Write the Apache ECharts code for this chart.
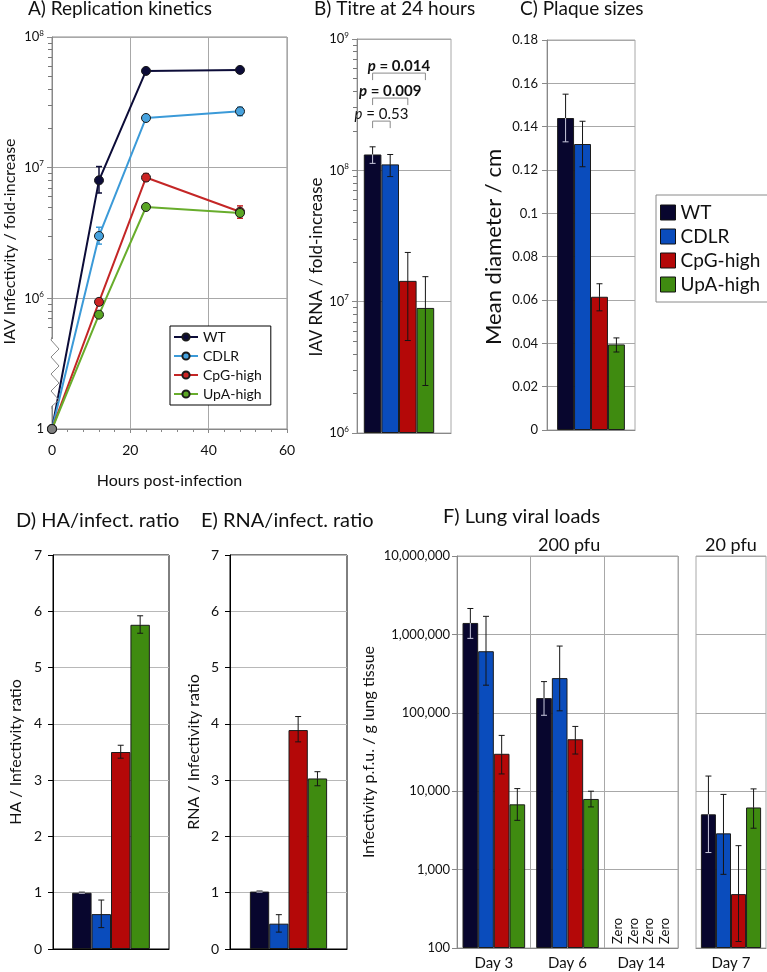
<!DOCTYPE html>
<html><head><meta charset="utf-8">
<script src="https://cdn.jsdelivr.net/npm/echarts@6/dist/echarts.min.js"></script>
<style>html,body{margin:0;padding:0;background:#fff}#c{width:767px;height:972px}</style>
</head><body><div id="c"></div>
<script>
// ---------------- DATA ----------------
const seriesNames = ['WT', 'CDLR', 'CpG-high', 'UpA-high'];

// A) Replication kinetics (fold-increase; value 1 sits below the axis break)
const hoursA = [0, 12, 24, 48];
const kinWT   = [1, 8.0e6, 5.5e7, 5.6e7];
const kinCDLR = [1, 3.0e6, 2.4e7, 2.7e7];
const kinCpG  = [1, 9.4e5, 8.4e6, 4.6e6];
const kinUpA  = [1, 7.5e5, 5.0e6, 4.5e6];
const kinLoWT   = [null, 6.4e6, 5.3e7, 5.4e7];
const kinHiWT   = [null, 1.02e7, 5.7e7, 5.8e7];
const kinLoCDLR = [null, 2.6e6, 2.3e7, 2.5e7];
const kinHiCDLR = [null, 3.5e6, 2.5e7, 2.9e7];
const kinLoCpG  = [null, 9.0e5, 7.9e6, 4.1e6];
const kinHiCpG  = [null, 9.8e5, 9.0e6, 5.1e6];
const kinLoUpA  = [null, 7.3e5, 4.9e6, 4.3e6];
const kinHiUpA  = [null, 7.7e5, 5.1e6, 4.7e6];
const hoursTicks = [0, 20, 40, 60];

// B) Titre at 24 hours
const titreVal = [1.32e8, 1.11e8, 1.44e7, 8.96e6];
const titreLo  = [1.13e8, 8.96e7, 5.06e6, 2.3e6];
const titreHi  = [1.51e8, 1.32e8, 2.37e7, 1.55e7];
const pFrom = [0, 0, 0];
const pTo   = [1, 2, 3];
const pAt   = [2.37e8, 3.55e8, 5.5e8];
const pText = ['0.53', '0.009', '0.014'];
const pBold = [false, true, true];

// C) Plaque sizes (cm)
const plaqueVal = [0.144, 0.132, 0.0615, 0.0395];
const plaqueLo  = [0.133, 0.1215, 0.055, 0.036];
const plaqueHi  = [0.155, 0.1425, 0.0675, 0.0425];

// D) HA / infectivity ratio
const haVal = [1.0, 0.62, 3.5, 5.76];
const haLo  = [0.99, 0.38, 3.39, 5.61];
const haHi  = [1.01, 0.87, 3.62, 5.92];

// E) RNA / infectivity ratio
const rnaVal = [1.02, 0.45, 3.89, 3.03];
const rnaLo  = [1.01, 0.30, 3.68, 2.90];
const rnaHi  = [1.03, 0.61, 4.13, 3.15];

// F) Lung viral loads (pfu / g lung tissue), 0 = none detected
const lungDays200 = ['Day 3', 'Day 6', 'Day 14'];
const lungWT   = [1.40e6, 1.54e5, 0];
const lungCDLR = [6.1e5, 2.77e5, 0];
const lungCpG  = [3.0e4, 4.6e4, 0];
const lungUpA  = [6.8e3, 7.96e3, 0];
const lungLoWT   = [8.9e5, 9.3e4, 0];
const lungHiWT   = [2.14e6, 2.5e5, 0];
const lungLoCDLR = [2.25e5, 1.06e5, 0];
const lungHiCDLR = [1.7e6, 7.1e5, 0];
const lungLoCpG  = [1.66e4, 2.98e4, 0];
const lungHiCpG  = [5.15e4, 6.7e4, 0];
const lungLoUpA  = [4.25e3, 6.3e3, 0];
const lungHiUpA  = [1.08e4, 1.0e4, 0];
const lungDays20 = ['Day 7'];
const lung20WT   = [5.07e3];
const lung20CDLR = [2.9e3];
const lung20CpG  = [487];
const lung20UpA  = [6.2e3];
const lung20LoWT   = [1.65e3];
const lung20HiWT   = [1.56e4];
const lung20LoCDLR = [870];
const lung20HiCDLR = [9.1e3];
const lung20LoCpG  = [121];
const lung20HiCpG  = [2.02e3];
const lung20LoUpA  = [3.37e3];
const lung20HiUpA  = [1.07e4];

// ---------------- STYLE ----------------
const FONT = 'Lato';
const BAR_COLORS = ['#08062e', '#0a4cbc', '#b40808', '#3f8b10'];
const LINE_COLORS = ['#0c0c38', '#3b9ad8', '#c42626', '#68ad2c'];
const MARK_COLORS = ['#0c0c38', '#46a2de', '#cc2424', '#5aa624'];
const GRID_GREY = '#a8a8a8';
const AXIS_GREY = '#888888';
const BREAK = 1e5;
// panel B bar layout: fixed bar width plus an empty trailing slot (bars sit left of centre)
const B_BAR_W = 17.6, B_TAIL = 10;

function minorLogTicks(fromExp, toExp) {
  const out = [];
  for (let e = fromExp; e < toExp; e++) for (let m = 2; m <= 9; m++) out.push(Math.log10(m * Math.pow(10, e)));
  return out;
}
const supRich = {
  b: { fontSize: 13, lineHeight: 16, fontFamily: FONT, color: '#111' },
  s: { fontSize: 8, lineHeight: 8, verticalAlign: 'top', fontFamily: FONT, color: '#111' }
};
function supLabel(v) {
  if (v <= BREAK * 1.01) return '{b|1}';
  return '{b|10}{s|' + Math.round(Math.log10(v)) + '}';
}
// rotated axis name shifted along the axis by a trailing blank token
function shiftedName(text, fontSize, shift) {
  return {
    name: '{t|' + text + '}{sp|\u00a0}',
    nameTextStyle: { rich: {
      t: { fontSize: fontSize, fontFamily: FONT, color: '#111' },
      sp: { fontSize: fontSize, width: shift, fontFamily: FONT }
    } }
  };
}

function kinSeries(i, vals) {
  return {
    name: seriesNames[i], type: 'line', xAxisIndex: 0, yAxisIndex: 0, z: 4,
    data: hoursA.map((h, k) => {
      const v = vals[k] < BREAK ? BREAK : vals[k];
      return k === 0 ? { value: [h, v], itemStyle: { color: '#808080' } } : [h, v];
    }),
    symbol: 'circle', symbolSize: 9,
    lineStyle: { color: LINE_COLORS[i], width: 2 },
    itemStyle: { color: MARK_COLORS[i], borderColor: '#1a1a1a', borderWidth: 1 }
  };
}
function kinErr(i, lo, hi) {
  const data = [];
  hoursA.forEach((h, k) => { if (lo[k] != null) data.push([h, lo[k], hi[k]]); });
  const col = LINE_COLORS[i];
  return {
    type: 'custom', xAxisIndex: 0, yAxisIndex: 0, z: 3, silent: true, data,
    renderItem(params, api) {
      const p1 = api.coord([api.value(0), api.value(1)]);
      const p2 = api.coord([api.value(0), api.value(2)]);
      const w = 3, st = { stroke: col, lineWidth: 1.5 };
      return { type: 'group', children: [
        { type: 'line', shape: { x1: p1[0], y1: p1[1], x2: p2[0], y2: p2[1] }, style: st },
        { type: 'line', shape: { x1: p1[0] - w, y1: p1[1], x2: p1[0] + w, y2: p1[1] }, style: st },
        { type: 'line', shape: { x1: p2[0] - w, y1: p2[1], x2: p2[0] + w, y2: p2[1] }, style: st }
      ] };
    }
  };
}

// centre x of bar s in category cat, matching ECharts' own bar layout
function barCenter(cs, nCats, cat, s, layout) {
  const band = cs.width / nCats;
  if (layout.barW) {
    const grp = 4 * layout.barW + layout.tail;
    return cs.x + band * (cat + 0.5) - grp / 2 + layout.barW * (s + 0.5);
  }
  const grp = band * (1 - layout.gap), bw = grp / 4;
  return cs.x + band * (cat + 0.5) - grp / 2 + bw * (s + 0.5);
}

function barSeries(axisIdx, valsList, layout) {
  const list = valsList.map((vals, i) => {
    const s = {
      name: seriesNames[i], type: 'bar', xAxisIndex: axisIdx, yAxisIndex: axisIdx,
      data: vals.map(v => v === 0 ? '-' : v),
      barGap: '0%', clip: true,
      itemStyle: { color: BAR_COLORS[i], borderColor: '#1c1c1c', borderWidth: 1 }
    };
    if (layout.barW) s.barWidth = layout.barW; else s.barCategoryGap = (layout.gap * 100) + '%';
    return s;
  });
  if (layout.barW) {
    list.push({ name: 'slot', type: 'bar', xAxisIndex: axisIdx, yAxisIndex: axisIdx, barGap: '0%',
      barWidth: layout.tail, data: valsList[0].map(() => '-'), silent: true });
  }
  return list;
}
function barErr(axisIdx, nCats, layout, valsList, loList, hiList) {
  const data = [];
  valsList.forEach((vals, s) => vals.forEach((v, c) => data.push([c, loList[s][c], hiList[s][c], v, s])));
  return {
    type: 'custom', xAxisIndex: axisIdx, yAxisIndex: axisIdx, z: 5, silent: true, data,
    renderItem(params, api) {
      const cs = params.coordSys;
      const cat = api.value(0), lo = api.value(1), hi = api.value(2), v = api.value(3), s = api.value(4);
      const cx = barCenter(cs, nCats, cat, s, layout);
      if (v === 0) {
        return { type: 'text', x: cx, y: cs.y + cs.height - 4, rotation: Math.PI / 2,
          style: { text: 'Zero', fill: '#111', font: '13px ' + FONT, align: 'left', verticalAlign: 'middle' } };
      }
      const yv = api.coord([cat, v])[1], yl = api.coord([cat, lo])[1], yh = api.coord([cat, hi])[1];
      const dark = '#151515', light = s === 0 ? '#c9c9de' : dark, w = 3;
      return { type: 'group', children: [
        { type: 'line', shape: { x1: cx, y1: yh, x2: cx, y2: yv }, style: { stroke: dark, lineWidth: 1 } },
        { type: 'line', shape: { x1: cx, y1: yv, x2: cx, y2: yl }, style: { stroke: light, lineWidth: 1 } },
        { type: 'line', shape: { x1: cx - w, y1: yh, x2: cx + w, y2: yh }, style: { stroke: dark, lineWidth: 1 } },
        { type: 'line', shape: { x1: cx - w, y1: yl, x2: cx + w, y2: yl }, style: { stroke: light, lineWidth: 1 } }
      ] };
    }
  };
}
function pBrackets(layout) {
  const data = pFrom.map((f, k) => [f, pTo[k], pAt[k], k]);
  return {
    type: 'custom', xAxisIndex: 1, yAxisIndex: 1, z: 6, silent: true, data,
    renderItem(params, api) {
      const cs = params.coordSys;
      const k = api.value(3);
      const x1 = barCenter(cs, 1, 0, api.value(0), layout);
      const x2 = barCenter(cs, 1, 0, api.value(1), layout);
      const y = api.coord([0, api.value(2)])[1];
      const fw = pBold[k] ? 'bold' : 'normal';
      return { type: 'group', children: [
        { type: 'polyline', shape: { points: [[x1, y + 7], [x1, y], [x2, y], [x2, y + 7]] }, style: { stroke: '#8a8a8a', lineWidth: 1, fill: null } },
        { type: 'text', x: (x1 + x2) / 2, y: y + 1, style: {
          text: '{i|p}{n| = ' + pText[k] + '}', align: 'center', verticalAlign: 'bottom',
          rich: { i: { fontStyle: 'italic', fontWeight: fw, fontSize: 15, fontFamily: FONT, fill: '#111' },
                  n: { fontWeight: fw, fontSize: 15, fontFamily: FONT, fill: '#111' } } } }
      ] };
    }
  };
}

const catAxis = (gi, data, lineColor) => ({
  type: 'category', gridIndex: gi, data: data,
  axisLine: { show: true, lineStyle: { color: lineColor } },
  axisTick: { show: false }, axisLabel: { show: false }, splitLine: { show: false }
});
const nameStyle = { fontSize: 16, fontFamily: FONT, color: '#111' };
const labStyle = { fontSize: 13, fontFamily: FONT, color: '#111' };
const titleStyle = (fs) => ({ fontSize: fs, fontWeight: 'normal', color: '#111', fontFamily: FONT });

const layoutB = { barW: B_BAR_W, tail: B_TAIL };
const layoutC = { gap: 0.23 }, layoutD = { gap: 0.33 }, layoutE = { gap: 0.34 };
const layoutF1 = { gap: 0.15 }, layoutF2 = { gap: 0.14 };

const option = {
  animation: false,
  backgroundColor: '#fff',
  textStyle: { fontFamily: FONT },
  title: [
    { text: 'A) Replication kinetics', left: 28, top: -1, textStyle: titleStyle(19) },
    { text: 'B) Titre at 24 hours', left: 314, top: -1, textStyle: titleStyle(19) },
    { text: 'C) Plaque sizes', left: 520, top: -1, textStyle: titleStyle(19) },
    { text: 'D) HA/infect. ratio', left: 16, top: 511, textStyle: titleStyle(20) },
    { text: 'E) RNA/infect. ratio', left: 201, top: 511, textStyle: titleStyle(20) },
    { text: 'F) Lung viral loads', left: 443, top: 507, textStyle: titleStyle(20) },
    { text: '200 pfu', left: 538, top: 536, textStyle: titleStyle(18) },
    { text: '20 pfu', left: 705, top: 536, textStyle: titleStyle(18) }
  ].map(t => Object.assign({ padding: 0 }, t)),
  legend: [
    { left: 170, top: 326, orient: 'vertical', itemWidth: 24, itemHeight: 9, itemGap: 5,
      padding: [4, 9, 4, 3], borderColor: '#000', borderWidth: 1, backgroundColor: '#fff',
      selectedMode: false, textStyle: { fontSize: 14, fontFamily: FONT, color: '#111' },
      data: seriesNames.slice() },
    { left: 656, top: 195, orient: 'vertical', itemWidth: 15, itemHeight: 15, itemGap: 5,
      padding: [8, 9, 8, 4], borderColor: '#8a8a8a', borderWidth: 1,
      selectedMode: false, textStyle: { fontSize: 19, fontFamily: FONT, color: '#111' },
      data: seriesNames.map((n, i) => ({ name: n, icon: 'rect',
        itemStyle: { color: BAR_COLORS[i], borderColor: '#111', borderWidth: 1 } })) }
  ],
  grid: [
    { left: 52, top: 37, width: 235, height: 392, show: true, borderColor: '#8a8a8a', borderWidth: 1 },
    { left: 357, top: 39, width: 94, height: 394, show: true, borderColor: GRID_GREY, borderWidth: 1 },
    { left: 547, top: 40, width: 88, height: 390, show: true, borderColor: GRID_GREY, borderWidth: 1 },
    { left: 53, top: 555, width: 116, height: 394, show: true, borderColor: '#000', borderWidth: 1 },
    { left: 230, top: 555, width: 117, height: 394, show: true, borderColor: '#000', borderWidth: 1 },
    { left: 457, top: 556, width: 221, height: 392, show: true, borderColor: GRID_GREY, borderWidth: 1 },
    { left: 696, top: 556, width: 70, height: 392, show: true, borderColor: GRID_GREY, borderWidth: 1 }
  ],
  xAxis: [
    { type: 'value', gridIndex: 0, min: hoursTicks[0], max: hoursTicks[hoursTicks.length - 1], interval: 20,
      axisLine: { show: true, lineStyle: { color: AXIS_GREY } },
      axisTick: { show: true, length: 4, lineStyle: { color: AXIS_GREY } },
      minorTick: { show: true, splitNumber: 5, length: 3, lineStyle: { color: AXIS_GREY } },
      splitLine: { show: true, lineStyle: { color: GRID_GREY } },
      axisLabel: { fontSize: 14, margin: 14, color: '#111', fontFamily: FONT },
      name: 'Hours post-infection', nameLocation: 'middle', nameGap: 44, nameTextStyle: nameStyle },
    catAxis(1, [''], AXIS_GREY),
    catAxis(2, [''], AXIS_GREY),
    catAxis(3, [''], '#000'),
    catAxis(4, [''], '#000'),
    { type: 'category', gridIndex: 5, data: lungDays200,
      axisLine: { show: true, lineStyle: { color: AXIS_GREY } }, axisTick: { show: false },
      axisLabel: { fontSize: 15, margin: 8, color: '#111', fontFamily: FONT },
      splitLine: { show: true, lineStyle: { color: GRID_GREY } } },
    { type: 'category', gridIndex: 6, data: lungDays20,
      axisLine: { show: true, lineStyle: { color: AXIS_GREY } }, axisTick: { show: false },
      axisLabel: { fontSize: 15, margin: 8, color: '#111', fontFamily: FONT },
      splitLine: { show: false } }
  ],
  yAxis: [
    Object.assign({ type: 'log', logBase: 10, gridIndex: 0, min: BREAK, max: 1e8,
      axisLine: { show: true, lineStyle: { color: AXIS_GREY } },
      axisTick: { show: true, length: 5, lineStyle: { color: AXIS_GREY } },
      splitLine: { show: true, lineStyle: { color: GRID_GREY } },
      axisLabel: { formatter: supLabel, rich: supRich, margin: 8 },
      nameLocation: 'middle', nameGap: 34 }, shiftedName('IAV Infectivity / fold-increase', 16, 17)),
    Object.assign({ type: 'log', logBase: 10, gridIndex: 1, min: 1e6, max: 1e9, startValue: 1e6,
      axisLine: { show: true, lineStyle: { color: AXIS_GREY } },
      axisTick: { show: true, length: 5, lineStyle: { color: AXIS_GREY } },
      splitLine: { show: true, lineStyle: { color: GRID_GREY } },
      axisLabel: { formatter: supLabel, rich: supRich, margin: 8 },
      nameLocation: 'middle', nameGap: 30 }, shiftedName('IAV RNA / fold-increase', 17, 62)),
    Object.assign({ type: 'value', gridIndex: 2, min: 0, max: 0.18, interval: 0.02,
      axisLine: { show: true, lineStyle: { color: AXIS_GREY } },
      axisTick: { show: true, length: 5, lineStyle: { color: AXIS_GREY } },
      splitLine: { show: true, lineStyle: { color: GRID_GREY } },
      axisLabel: Object.assign({ margin: 9 }, labStyle),
      nameLocation: 'middle', nameGap: 42 }, shiftedName('Mean diameter / cm', 22, 24)),
    { type: 'value', gridIndex: 3, min: 0, max: 7, interval: 1,
      axisLine: { show: true, lineStyle: { color: '#000' } },
      axisTick: { show: true, length: 5, lineStyle: { color: '#000' } },
      splitLine: { show: true, lineStyle: { color: '#b8b8b8' } },
      axisLabel: Object.assign({ margin: 11 }, labStyle, { fontSize: 14 }),
      name: 'HA / Infectivity ratio', nameLocation: 'middle', nameGap: 29, nameTextStyle: nameStyle },
    { type: 'value', gridIndex: 4, min: 0, max: 7, interval: 1,
      axisLine: { show: true, lineStyle: { color: '#000' } },
      axisTick: { show: true, length: 5, lineStyle: { color: '#000' } },
      splitLine: { show: true, lineStyle: { color: '#b8b8b8' } },
      axisLabel: Object.assign({ margin: 11 }, labStyle, { fontSize: 14 }),
      name: 'RNA / Infectivity ratio', nameLocation: 'middle', nameGap: 28, nameTextStyle: nameStyle },
    { type: 'log', logBase: 10, gridIndex: 5, min: 100, max: 1e7, startValue: 100,
      axisLine: { show: true, lineStyle: { color: AXIS_GREY } },
      axisTick: { show: true, length: 5, lineStyle: { color: AXIS_GREY } },
      splitLine: { show: true, lineStyle: { color: GRID_GREY } },
      axisLabel: Object.assign({ margin: 7, formatter: v => Math.round(v).toLocaleString('en-US') }, labStyle),
      name: 'Infectivity p.f.u. / g lung tissue', nameLocation: 'middle', nameGap: 80, nameTextStyle: nameStyle },
    { type: 'log', logBase: 10, gridIndex: 6, min: 100, max: 1e7, startValue: 100,
      axisLine: { show: false }, axisTick: { show: false }, axisLabel: { show: false },
      splitLine: { show: true, lineStyle: { color: GRID_GREY } } },
    // minor log ticks (A and B), on a linear axis in log10 units
    { type: 'value', gridIndex: 0, position: 'left', min: 5, max: 8,
      axisLine: { show: false, onZero: false }, axisLabel: { show: false }, splitLine: { show: false },
      axisTick: { show: true, length: 4, customValues: minorLogTicks(6, 8).concat([Math.log10(6e5), Math.log10(7e5), Math.log10(8e5), Math.log10(9e5)]), lineStyle: { color: '#777' } } },
    { type: 'value', gridIndex: 1, position: 'left', min: 6, max: 9,
      axisLine: { show: false, onZero: false }, axisLabel: { show: false }, splitLine: { show: false },
      axisTick: { show: true, length: 4, customValues: minorLogTicks(6, 9), lineStyle: { color: '#777' } } }
  ],
  graphic: [
    { type: 'rect', z: 1, shape: { x: 50, y: 339, width: 4, height: 67 }, style: { fill: '#fff' } },
    { type: 'polyline', z: 100, shape: { points: [[52, 337], [51, 340], [59, 349], [51, 357], [59, 366], [51, 374], [59, 383], [51, 391], [59, 400], [52, 406], [52, 409]] },
      style: { stroke: AXIS_GREY, lineWidth: 1, fill: null } }
  ],
  series: [
    kinSeries(0, kinWT), kinSeries(1, kinCDLR), kinSeries(2, kinCpG), kinSeries(3, kinUpA),
    kinErr(0, kinLoWT, kinHiWT), kinErr(1, kinLoCDLR, kinHiCDLR), kinErr(2, kinLoCpG, kinHiCpG), kinErr(3, kinLoUpA, kinHiUpA)
  ]
    .concat(barSeries(1, titreVal.map(v => [v]), layoutB))
    .concat([barErr(1, 1, layoutB, titreVal.map(v => [v]), titreLo.map(v => [v]), titreHi.map(v => [v])), pBrackets(layoutB)])
    .concat(barSeries(2, plaqueVal.map(v => [v]), layoutC))
    .concat([barErr(2, 1, layoutC, plaqueVal.map(v => [v]), plaqueLo.map(v => [v]), plaqueHi.map(v => [v]))])
    .concat(barSeries(3, haVal.map(v => [v]), layoutD))
    .concat([barErr(3, 1, layoutD, haVal.map(v => [v]), haLo.map(v => [v]), haHi.map(v => [v]))])
    .concat(barSeries(4, rnaVal.map(v => [v]), layoutE))
    .concat([barErr(4, 1, layoutE, rnaVal.map(v => [v]), rnaLo.map(v => [v]), rnaHi.map(v => [v]))])
    .concat(barSeries(5, [lungWT, lungCDLR, lungCpG, lungUpA], layoutF1))
    .concat([barErr(5, 3, layoutF1, [lungWT, lungCDLR, lungCpG, lungUpA],
      [lungLoWT, lungLoCDLR, lungLoCpG, lungLoUpA], [lungHiWT, lungHiCDLR, lungHiCpG, lungHiUpA])])
    .concat(barSeries(6, [lung20WT, lung20CDLR, lung20CpG, lung20UpA], layoutF2))
    .concat([barErr(6, 1, layoutF2, [lung20WT, lung20CDLR, lung20CpG, lung20UpA],
      [lung20LoWT, lung20LoCDLR, lung20LoCpG, lung20LoUpA], [lung20HiWT, lung20HiCDLR, lung20HiCpG, lung20HiUpA])])
};

const chart = echarts.init(document.getElementById('c'), null, { renderer: 'canvas' });
chart.setOption(option);
</script></body></html>
